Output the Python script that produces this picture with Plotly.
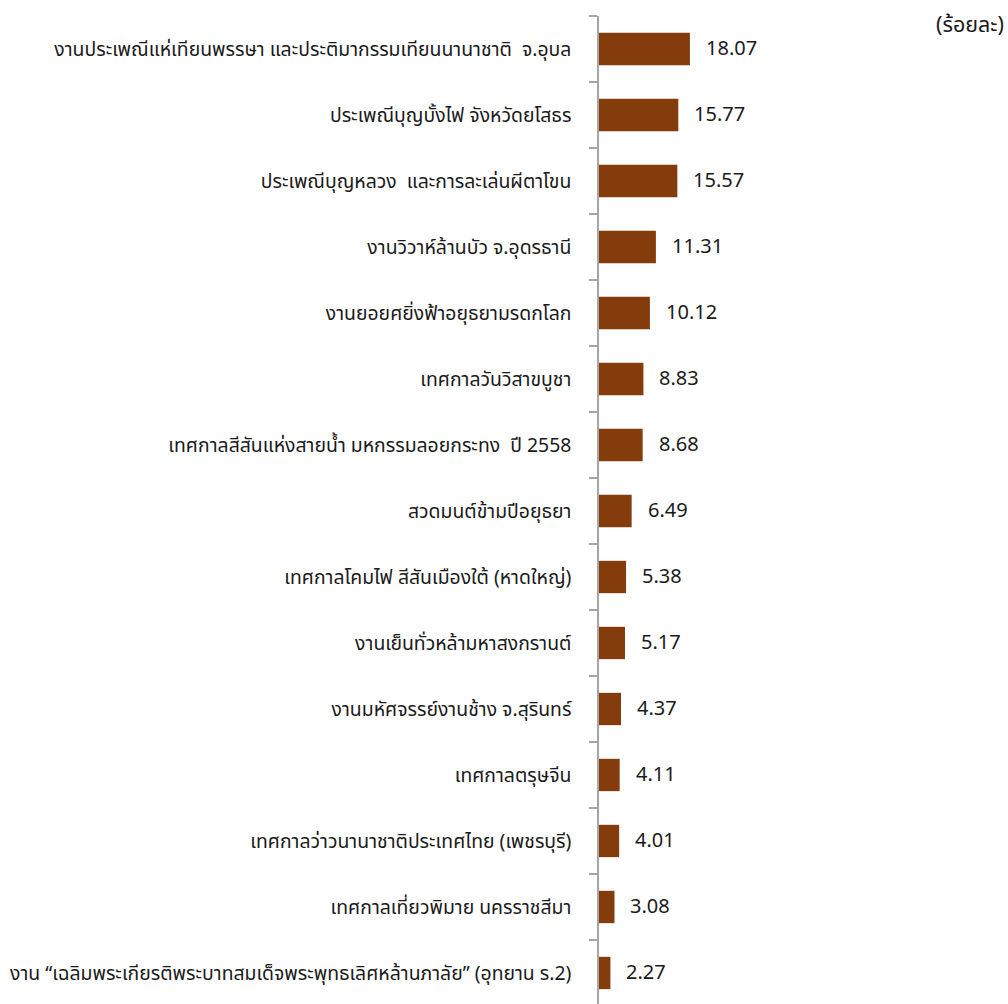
import plotly.graph_objects as go

# Festival / event names (top to bottom) and their shares in percent
events = [
    "งานประเพณีแห่เทียนพรรษา และประติมากรรมเทียนนานาชาติ  จ.อุบล",
    "ประเพณีบุญบั้งไฟ จังหวัดยโสธร",
    "ประเพณีบุญหลวง  และการละเล่นผีตาโขน",
    "งานวิวาห์ล้านบัว จ.อุดรธานี",
    "งานยอยศยิ่งฟ้าอยุธยามรดกโลก",
    "เทศกาลวันวิสาขบูชา",
    "เทศกาลสีสันแห่งสายน้ำ มหกรรมลอยกระทง  ปี 2558",
    "สวดมนต์ข้ามปีอยุธยา",
    "เทศกาลโคมไฟ สีสันเมืองใต้ (หาดใหญ่)",
    "งานเย็นทั่วหล้ามหาสงกรานต์",
    "งานมหัศจรรย์งานช้าง จ.สุรินทร์",
    "เทศกาลตรุษจีน",
    "เทศกาลว่าวนานาชาติประเทศไทย (เพชรบุรี)",
    "เทศกาลเที่ยวพิมาย นครราชสีมา",
    "งาน “เฉลิมพระเกียรติพระบาทสมเด็จพระพุทธเลิศหล้านภาลัย” (อุทยาน ร.2)",
]
shares = [18.07, 15.77, 15.57, 11.31, 10.12, 8.83, 8.68, 6.49,
          5.38, 5.17, 4.37, 4.11, 4.01, 3.08, 2.27]
unit_label = "(ร้อยละ)"

FONT = "Tahoma, 'Noto Sans Thai', 'Noto Sans', sans-serif"
BAR_COLOR = "#843C0C"
TEXT_COLOR = "#1a1a1a"
AXIS_COLOR = "#a6a6a6"

fig = go.Figure(
    go.Bar(
        x=shares,
        y=events,
        orientation="h",
        marker=dict(color=BAR_COLOR, line=dict(width=0)),
        width=0.49,
        hoverinfo="skip",
    )
)

# value labels to the right of each bar
for ev, v in zip(events, shares):
    fig.add_annotation(
        x=v, y=ev, xref="x", yref="y",
        text=f"{v:.2f}", showarrow=False,
        xanchor="left", yanchor="middle", xshift=14,
        font=dict(family=FONT, size=20, color=TEXT_COLOR),
    )

fig.add_annotation(
    x=1, y=1, xref="paper", yref="paper",
    text=unit_label, showarrow=False,
    xanchor="right", yanchor="middle", xshift=-2, yshift=-9,
    font=dict(family=FONT, size=21.5, color=TEXT_COLOR),
)

fig.update_layout(
    width=1008, height=1004,
    margin=dict(l=599, r=0, t=16, b=0),
    paper_bgcolor="white", plot_bgcolor="white",
    showlegend=False,
    font=dict(family=FONT, color=TEXT_COLOR),
)
fig.update_xaxes(
    range=[0, 81.3], visible=False, showgrid=False, zeroline=False,
)
fig.update_yaxes(
    type="category",
    range=[14.47, -0.5],
    showgrid=False, zeroline=False,
    showline=True, linecolor=AXIS_COLOR, linewidth=1.5,
    ticks="outside", ticklen=8, tickcolor=AXIS_COLOR, tickwidth=1.5,
    tickson="boundaries",
    ticklabelstandoff=22,
    tickfont=dict(family=FONT, size=19.4, color=TEXT_COLOR),
)

fig.write_html("out.html")
